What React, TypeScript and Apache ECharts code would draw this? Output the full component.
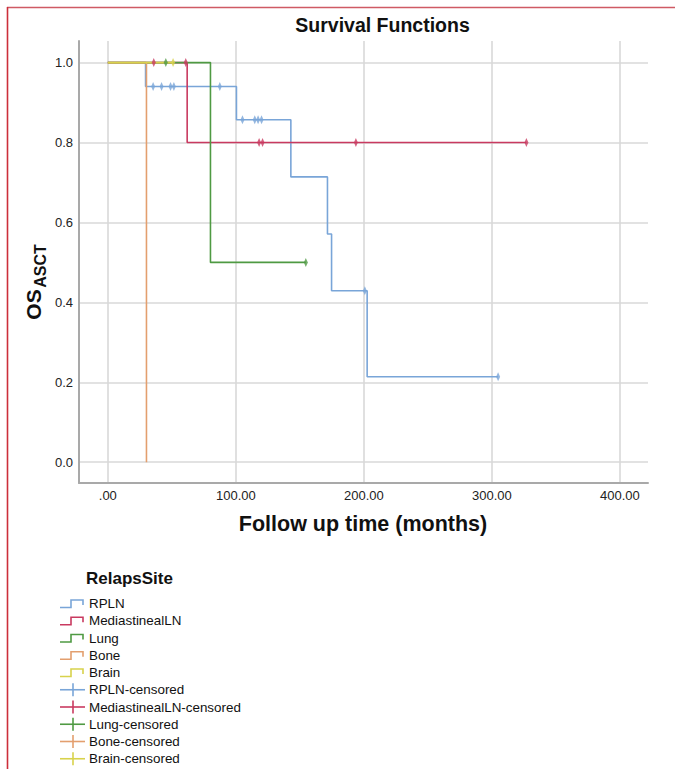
import React, { useEffect, useRef } from 'react';
import * as echarts from 'echarts';

const groups = ['RPLN', 'MediastinealLN', 'Lung', 'Bone', 'Brain'];
const groupColors = ['#79a5d8', '#c93a60', '#4f9a43', '#e39f6e', '#d8d24c'];

// Kaplan-Meier step curves: [time, survival after the step]
const rplnCurve = [[0, 1], [29.5, 0.94], [100.5, 0.857], [143, 0.714], [171.6, 0.571], [174.8, 0.429], [202.6, 0.214], [304.9, 0.214]];
const mediastinalCurve = [[0, 1], [62, 0.8], [327, 0.8]];
const lungCurve = [[0, 1], [80.2, 0.5], [154.7, 0.5]];
const boneCurve = [[0, 1], [30.2, 0]];
const brainCurve = [[0, 1], [51, 1]];

// Censored observations: [time, survival]
const rplnCensored = [[35.4, 0.94], [42, 0.94], [49, 0.94], [51.6, 0.94], [87.5, 0.94], [105.2, 0.857], [114.8, 0.857], [117.4, 0.857], [120.1, 0.857], [200.8, 0.429], [304.9, 0.214]];
const mediastinalCensored = [[35.9, 1], [60.9, 1], [118.2, 0.8], [120.9, 0.8], [193.8, 0.8], [327, 0.8]];
const lungCensored = [[45.3, 1], [154.7, 0.5]];
const boneCensored: number[][] = [];
const brainCensored = [[51, 1]];

const xTickValues = [0, 100, 200, 300, 400];
const yTickValues = [0, 0.2, 0.4, 0.6, 0.8, 1.0];

const curves = [rplnCurve, mediastinalCurve, lungCurve, boneCurve, brainCurve];
const censored = [rplnCensored, mediastinalCensored, lungCensored, boneCensored, brainCensored];
const drawOrder = [0, 2, 1, 3, 4];

const FONT = '"Liberation Sans", Arial, Helvetica, sans-serif';

export default function App() {
  const ref = useRef<HTMLDivElement>(null);

  useEffect(() => {
    if (!ref.current) return;
    const chart = echarts.init(ref.current, null, { renderer: 'svg' });

    const series: any[] = [];
    drawOrder.forEach((i) => {
      series.push({
        name: groups[i],
        type: 'line',
        step: 'end',
        data: curves[i],
        showSymbol: false,
        symbol: 'none',
        lineStyle: { color: groupColors[i], width: 1.6 },
        itemStyle: { color: groupColors[i] },
        z: 3 + i * 0.1,
        silent: true,
      });
    });
    drawOrder.forEach((i) => {
      series.push({
        name: groups[i] + '-censored',
        type: 'scatter',
        data: censored[i],
        symbol: 'diamond',
        symbolSize: [4, 9],
        itemStyle: { color: groupColors[i] },
        z: 5,
        silent: true,
      });
    });

    const legendItems: any[] = [];
    const rowY0 = 603.5;
    const rowGap = 17.25;
    const allNames = [...groups, ...groups.map((g) => g + '-censored')];
    allNames.forEach((name, k) => {
      const c = rowY0 + k * rowGap;
      const col = groupColors[k % 5];
      if (k < 5) {
        legendItems.push({
          type: 'polyline',
          shape: { points: [[60, c + 4], [71, c + 4], [71, c - 3.5], [83, c - 3.5], [83, c + 1.5]] },
          style: { stroke: col, fill: null, lineWidth: 1.6 },
          silent: true,
        });
      } else {
        legendItems.push({
          type: 'line',
          shape: { x1: 60, y1: c, x2: 85, y2: c },
          style: { stroke: col, lineWidth: 1.6 },
          silent: true,
        });
        legendItems.push({
          type: 'line',
          shape: { x1: 73, y1: c - 6.5, x2: 73, y2: c + 6.5 },
          style: { stroke: col, lineWidth: 1.6 },
          silent: true,
        });
      }
      legendItems.push({
        type: 'text',
        x: 89,
        y: c,
        style: {
          text: name,
          font: `13.4px ${FONT}`,
          fill: '#111',
          textAlign: 'left',
          textVerticalAlign: 'middle',
        },
        silent: true,
      });
    });

    const option: any = {
      animation: false,
      backgroundColor: '#fff',
      grid: { left: 79, right: 27, top: 41, bottom: 286, containLabel: false },
      xAxis: {
        type: 'value',
        min: -22.5,
        max: 422,
        splitNumber: 5,
        axisLine: { show: true, onZero: false, lineStyle: { color: '#a9a9a9', width: 2 } },
        axisTick: { show: false },
        axisLabel: {
          color: '#222',
          fontSize: 13,
          fontFamily: FONT,
          margin: 6,
          customValues: xTickValues,
          formatter: (v: number) => (v === 0 ? '.00' : v.toFixed(2)),
        },
        splitLine: { show: true, showMinLine: false, showMaxLine: false, lineStyle: { color: '#d9d9d9', width: 1.6 } },
      },
      yAxis: {
        type: 'value',
        min: -0.052,
        max: 1.054,
        splitNumber: 5,
        axisLine: { show: true, onZero: false, lineStyle: { color: '#a9a9a9', width: 2 } },
        axisTick: { show: false },
        axisLabel: {
          color: '#222',
          fontSize: 13,
          fontFamily: FONT,
          margin: 6,
          customValues: yTickValues,
          formatter: (v: number) => v.toFixed(1),
        },
        splitLine: { show: true, showMinLine: false, showMaxLine: false, lineStyle: { color: '#d9d9d9', width: 1.6 } },
      },
      series,
      graphic: [
        { type: 'line', shape: { x1: 7, y1: 7.5, x2: 675, y2: 7.5 }, style: { stroke: '#cf5a64', lineWidth: 1.6 }, silent: true },
        { type: 'line', shape: { x1: 7.5, y1: 7, x2: 7.5, y2: 769 }, style: { stroke: '#cc2e3a', lineWidth: 1.6 }, silent: true },
        {
          type: 'text', x: 382.5, y: 25,
          style: { text: 'Survival Functions', font: `bold 19.5px ${FONT}`, fill: '#111', textAlign: 'center', textVerticalAlign: 'middle' },
          silent: true,
        },
        {
          type: 'text', x: 363, y: 524,
          style: { text: 'Follow up time (months)', font: `bold 21.5px ${FONT}`, fill: '#111', textAlign: 'center', textVerticalAlign: 'middle' },
          silent: true,
        },
        {
          type: 'text', x: 33, y: 304.5, rotation: Math.PI / 2,
          style: { text: 'OS', font: `bold 21px ${FONT}`, fill: '#111', textAlign: 'center', textVerticalAlign: 'middle' },
          silent: true,
        },
        {
          type: 'text', x: 40, y: 266, rotation: Math.PI / 2,
          style: { text: 'ASCT', font: `bold 16px ${FONT}`, fill: '#111', textAlign: 'center', textVerticalAlign: 'middle' },
          silent: true,
        },
        {
          type: 'text', x: 86, y: 578,
          style: { text: 'RelapsSite', font: `bold 17px ${FONT}`, fill: '#111', textAlign: 'left', textVerticalAlign: 'middle' },
          silent: true,
        },
        ...legendItems,
      ],
    };

    chart.setOption(option);
    return () => chart.dispose();
  }, []);

  return (
    <div
      ref={ref}
      style={{ position: 'absolute', left: 0, top: 0, width: 675, height: 769, background: '#fff' }}
    />
  );
}
